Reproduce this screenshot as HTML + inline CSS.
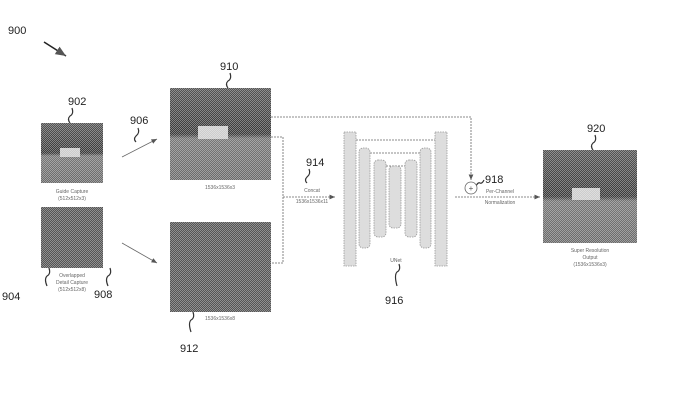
<!DOCTYPE html>
<html><head><style>
body{margin:0;background:#fff;width:678px;height:402px;overflow:hidden;font-family:"Liberation Sans",sans-serif}
</style></head><body>
<svg width="678" height="402" viewBox="0 0 678 402" xmlns="http://www.w3.org/2000/svg" font-family="Liberation Sans, sans-serif">
<defs>
<pattern id="dith" width="2" height="2" patternUnits="userSpaceOnUse"><rect width="1" height="1" fill="#fff" opacity="0.35"/><rect x="1" y="1" width="1" height="1" fill="#fff" opacity="0.35"/></pattern>
<linearGradient id="scene" x1="0" y1="0" x2="0" y2="1"><stop offset="0" stop-color="#555"/><stop offset="0.5" stop-color="#3a3a3a"/><stop offset="0.55" stop-color="#777"/><stop offset="1" stop-color="#6a6a6a"/></linearGradient>
<marker id="ar" markerWidth="8" markerHeight="8" refX="7" refY="4" orient="auto"><path d="M0,1 L7,4 L0,7z" fill="#555"/></marker>
</defs>
<g fill="#222" font-size="11">
<text x="8" y="34">900</text><text x="68" y="105">902</text><text x="130" y="124">906</text>
<text x="220" y="70">910</text><text x="218" y="162" font-size="9">911</text>
<text x="306" y="166">914</text><text x="485" y="183">918</text><text x="587" y="132">920</text>
<text x="2" y="300">904</text><text x="94" y="298">908</text><text x="180" y="352">912</text><text x="385" y="304">916</text>
</g>
<path d="M44,42 L66,56" stroke="#222" stroke-width="1.5" marker-end="url(#ar)"/>
<g stroke="#333" fill="none" stroke-width="1.2">
<path d="M72,108 q2,6 -2,8 q-3,3 0,7"/><path d="M138,128 q2,5 -2,8 q-3,3 0,6"/>
<path d="M230,73 q2,6 -2,8 q-3,3 0,7"/><path d="M213,142 q3,4 0,7 q-2,3 2,5"/>
<path d="M309,169 q2,5 -2,8 q-3,3 0,6"/><path d="M476,186 q2,-4 4,-3 q2,1 4,-3"/>
<path d="M595,135 q2,6 -2,8 q-3,3 0,7"/><path d="M49,268 q2,6 -2,8 q-3,3 0,10"/>
<path d="M110,268 q2,6 -2,8 q-3,3 0,10"/><path d="M193,312 q2,6 -2,8 q-3,3 0,12"/>
<path d="M399,264 q2,6 -2,8 q-3,3 0,14"/>
</g>
<g>
<rect x="41" y="123" width="62" height="60" fill="url(#scene)"/><rect x="60" y="148" width="20" height="9" fill="#ccc"/><rect x="41" y="123" width="62" height="60" fill="url(#dith)"/>
<rect x="41" y="207" width="62" height="61" fill="#555"/><rect x="41" y="207" width="62" height="61" fill="url(#dith)"/>
<rect x="170" y="88" width="101" height="92" fill="url(#scene)"/><rect x="198" y="126" width="30" height="13" fill="#ccc"/><rect x="170" y="88" width="101" height="92" fill="url(#dith)"/>
<rect x="170" y="222" width="101" height="90" fill="#555"/><rect x="170" y="222" width="101" height="90" fill="url(#dith)"/>
<rect x="543" y="150" width="94" height="93" fill="url(#scene)"/><rect x="572" y="188" width="28" height="12" fill="#ccc"/><rect x="543" y="150" width="94" height="93" fill="url(#dith)"/>
</g>
<g fill="#666" font-size="5" text-anchor="middle">
<text x="72" y="193">Guide Capture</text><text x="72" y="200">(512x512x3)</text>
<text x="72" y="277">Overlapped</text><text x="72" y="284">Detail Capture</text><text x="72" y="291">(512x512x8)</text>
<text x="220" y="189">1536x1536x3</text><text x="220" y="320">1536x1536x8</text>
<text x="312" y="192">Concat</text><text x="312" y="203">1536x1536x11</text>
<text x="396" y="262">UNet</text>
<text x="500" y="193">Per-Channel</text><text x="500" y="204">Normalization</text>
<text x="590" y="252">Super Resolution</text><text x="590" y="259">Output</text><text x="590" y="266">(1536x1536x3)</text>
</g>
<g stroke="#666" stroke-width="0.8" fill="none">
<path d="M122,157 L157,139" marker-end="url(#ar)"/><path d="M122,243 L157,263" marker-end="url(#ar)"/>
<path d="M271,117 L471,117 L471,180" marker-end="url(#ar)" stroke-dasharray="2,1"/>
<path d="M271,137 L283,137 L283,263 L271,263" stroke-dasharray="2,1"/>
<path d="M283,197 L335,197" marker-end="url(#ar)" stroke-dasharray="2,1"/>
<path d="M455,197 L540,197" marker-end="url(#ar)" stroke-dasharray="2,1"/>
<circle cx="471" cy="188" r="6" fill="#fff"/>
<path d="M356,140 L435,140 M370,153 L420,153 M386,166 L405,166" stroke-dasharray="2,1"/>
</g>
<text x="471" y="191" font-size="8" text-anchor="middle" fill="#555">+</text>
<g fill="#ddd" stroke="#999" stroke-width="0.8" stroke-dasharray="1.5,1">
<rect x="344" y="132" width="12" height="134"/><rect x="435" y="132" width="12" height="134"/>
<rect x="359" y="148" width="11" height="100" rx="4"/><rect x="420" y="148" width="11" height="100" rx="4"/>
<rect x="374" y="160" width="12" height="77" rx="4"/><rect x="405" y="160" width="12" height="77" rx="4"/>
<rect x="389" y="166" width="12" height="62" rx="4"/>
</g>
</svg>
</body></html>
